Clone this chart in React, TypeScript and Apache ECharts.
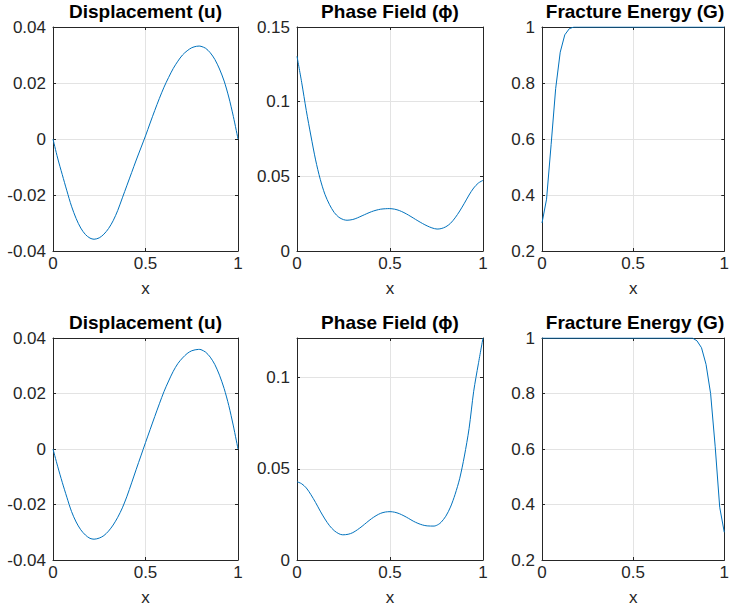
import React, { useEffect, useRef } from "react";
import * as echarts from "echarts";

// ---- data ----
const dispTopX = [0, 0.025, 0.05, 0.075, 0.1, 0.125, 0.15, 0.175, 0.2, 0.222, 0.25, 0.275, 0.3, 0.325, 0.35, 0.375, 0.4, 0.425, 0.45, 0.475, 0.5, 0.525, 0.55, 0.575, 0.6, 0.625, 0.65, 0.675, 0.7, 0.725, 0.75, 0.775, 0.79, 0.8, 0.825, 0.85, 0.875, 0.9, 0.925, 0.95, 0.975, 1];
const dispTopY = [0, -0.0068, -0.0127, -0.0185, -0.024, -0.0284, -0.0318, -0.0341, -0.0354, -0.0358, -0.0353, -0.034, -0.032, -0.0292, -0.0255, -0.021, -0.0165, -0.012, -0.0075, -0.0032, 0.0011, 0.0057, 0.0102, 0.0145, 0.0185, 0.022, 0.0252, 0.0278, 0.03, 0.0315, 0.0326, 0.0331, 0.0332, 0.0331, 0.0324, 0.0308, 0.0284, 0.025, 0.0207, 0.015, 0.008, 0];

const phaseTopX = [0, 0.025, 0.05, 0.075, 0.1, 0.125, 0.15, 0.175, 0.2, 0.225, 0.25, 0.269, 0.3, 0.325, 0.35, 0.375, 0.4, 0.425, 0.45, 0.475, 0.496, 0.525, 0.55, 0.575, 0.6, 0.625, 0.65, 0.675, 0.7, 0.725, 0.753, 0.775, 0.8, 0.825, 0.85, 0.875, 0.9, 0.925, 0.95, 0.975, 1];
const phaseTopY = [0.1304, 0.113, 0.094, 0.077, 0.061, 0.048, 0.038, 0.031, 0.0258, 0.0226, 0.021, 0.0206, 0.0211, 0.0222, 0.0236, 0.025, 0.0263, 0.0273, 0.028, 0.0283, 0.0284, 0.028, 0.0271, 0.0257, 0.024, 0.0221, 0.0202, 0.0184, 0.0168, 0.0155, 0.0147, 0.015, 0.0162, 0.0185, 0.0222, 0.0268, 0.032, 0.0375, 0.0422, 0.0455, 0.0473];

const fracTopX = [0, 0.025, 0.05, 0.075, 0.1, 0.125, 0.15, 0.175, 0.2, 1];
const fracTopY = [0.3, 0.385, 0.58, 0.78, 0.91, 0.972, 0.994, 1, 1, 1];

const dispBottomX = [0, 0.025, 0.05, 0.075, 0.1, 0.125, 0.15, 0.175, 0.2, 0.222, 0.25, 0.275, 0.3, 0.325, 0.35, 0.375, 0.4, 0.425, 0.45, 0.475, 0.5, 0.525, 0.55, 0.575, 0.6, 0.625, 0.65, 0.675, 0.7, 0.725, 0.75, 0.787, 0.8, 0.825, 0.85, 0.875, 0.9, 0.925, 0.95, 0.975, 1];
const dispBottomY = [0, -0.0062, -0.012, -0.0174, -0.0225, -0.0263, -0.0291, -0.031, -0.0322, -0.0325, -0.0321, -0.0312, -0.0296, -0.0274, -0.0246, -0.0212, -0.017, -0.0122, -0.0073, -0.0025, 0.0023, 0.007, 0.0117, 0.0163, 0.0207, 0.0245, 0.028, 0.0308, 0.0328, 0.0344, 0.0354, 0.0359, 0.0358, 0.0349, 0.0331, 0.0304, 0.0266, 0.0218, 0.0157, 0.0083, 0];

const phaseBottomX = [0, 0.025, 0.05, 0.075, 0.1, 0.125, 0.15, 0.175, 0.2, 0.225, 0.246, 0.275, 0.3, 0.325, 0.35, 0.375, 0.4, 0.425, 0.45, 0.475, 0.5, 0.525, 0.55, 0.575, 0.6, 0.625, 0.65, 0.675, 0.7, 0.737, 0.76, 0.775, 0.8, 0.825, 0.85, 0.875, 0.9, 0.925, 0.95, 0.975, 1];
const phaseBottomY = [0.0429, 0.0418, 0.0395, 0.0358, 0.0315, 0.0268, 0.0225, 0.0188, 0.0161, 0.0144, 0.0138, 0.0141, 0.015, 0.0166, 0.0185, 0.0206, 0.0226, 0.0243, 0.0256, 0.0263, 0.0265, 0.0262, 0.0254, 0.0242, 0.0228, 0.0213, 0.0201, 0.0192, 0.0187, 0.0186, 0.0195, 0.0207, 0.024, 0.029, 0.036, 0.0448, 0.057, 0.072, 0.0925, 0.1075, 0.1217];

const fracBottomX = [0, 0.8, 0.825, 0.85, 0.875, 0.9, 0.925, 0.95, 0.975, 1];
const fracBottomY = [1, 1, 1, 0.99, 0.965, 0.905, 0.8, 0.61, 0.39, 0.3];

const titles = ["Displacement (u)", "Phase Field (\u03D5)", "Fracture Energy (G)", "Displacement (u)", "Phase Field (\u03D5)", "Fracture Energy (G)"];
const xTicks = { min: 0, max: 1, interval: 0.5 };
const yRanges = [
  { min: -0.04, max: 0.04, interval: 0.02 },
  { min: 0, max: 0.15, interval: 0.05 },
  { min: 0.2, max: 1, interval: 0.2 },
  { min: -0.04, max: 0.04, interval: 0.02 },
  { min: 0, max: 0.1217, interval: 0.05 },
  { min: 0.2, max: 1, interval: 0.2 },
];

const FONT = '"Liberation Sans", Arial, Helvetica, sans-serif';
const AX = "#262626";

const zip = (a: number[], b: number[]) => a.map((v, i) => [v, b[i]]);

export default function App() {
  const ref = useRef<HTMLDivElement>(null);
  useEffect(() => {
    if (!ref.current) return;
    const chart = echarts.init(ref.current, undefined, { renderer: "svg" });

    const lefts = [53, 297, 542];
    const widths = [185, 186, 186];
    const tops = [27, 338];
    const heights = [224, 222];
    const titleY = [11, 322];

    const grids: any[] = [];
    const xAxes: any[] = [];
    const yAxes: any[] = [];
    const graphics: any[] = [];
    for (let i = 0; i < 6; i++) {
      const r = Math.floor(i / 3);
      const c = i % 3;
      grids.push({ left: lefts[c], top: tops[r], width: widths[c], height: heights[r], containLabel: false });
      graphics.push({
        type: "text",
        x: lefts[c] + widths[c] / 2,
        y: titleY[r],
        style: {
          text: titles[i],
          textAlign: "center",
          textVerticalAlign: "middle",
          fontSize: 19,
          fontWeight: "bold",
          fontFamily: FONT,
          fill: "#000",
        },
      });
      const common = {
        gridIndex: i,
        type: "value",
        axisLine: { show: true, onZero: false, lineStyle: { color: AX, width: 1 } },
        axisTick: { show: true, inside: true, length: 3, lineStyle: { color: AX } },
      };
      xAxes.push({
        ...common,
        position: "bottom",
        ...xTicks,
        name: "x",
        nameLocation: "middle",
        nameGap: 29,
        nameTextStyle: { fontSize: 17, color: AX, fontFamily: FONT },
        axisLabel: { fontSize: 17, color: AX, fontFamily: FONT, margin: 4 },
        splitLine: { show: true, lineStyle: { color: "#e3e3e3", width: 1 } },
      });
      xAxes.push({
        ...common,
        position: "top",
        ...xTicks,
        axisLabel: { show: false },
        splitLine: { show: false },
      });
      const yr = yRanges[i];
      yAxes.push({
        ...common,
        position: "left",
        min: yr.min,
        max: yr.max,
        interval: yr.interval,
        axisLabel: { fontSize: 17, color: AX, fontFamily: FONT, margin: 7, showMaxLabel: i === 4 ? false : true },
        splitLine: { show: true, lineStyle: { color: "#e3e3e3", width: 1 } },
      });
      yAxes.push({
        ...common,
        position: "right",
        min: yr.min,
        max: yr.max,
        interval: yr.interval,
        axisLabel: { show: false },
        splitLine: { show: false },
      });
    }

    const seriesData = [
      zip(dispTopX, dispTopY),
      zip(phaseTopX, phaseTopY),
      zip(fracTopX, fracTopY),
      zip(dispBottomX, dispBottomY),
      zip(phaseBottomX, phaseBottomY),
      zip(fracBottomX, fracBottomY),
    ];

    const series = seriesData.map((d, i) => ({
      type: "line",
      xAxisIndex: i * 2,
      yAxisIndex: i * 2,
      data: d,
      showSymbol: false,
      smooth: i % 3 === 2 ? false : 0.3,
      lineStyle: { color: "#0072BD", width: 1 },
      clip: true,
    }));

    chart.setOption({
      animation: false,
      backgroundColor: "#ffffff",
      grid: grids,
      xAxis: xAxes,
      yAxis: yAxes,
      series,
      graphic: graphics,
    });
    return () => chart.dispose();
  }, []);
  return <div ref={ref} style={{ position: "absolute", left: 0, top: 0, width: 732, height: 613 }} />;
}
